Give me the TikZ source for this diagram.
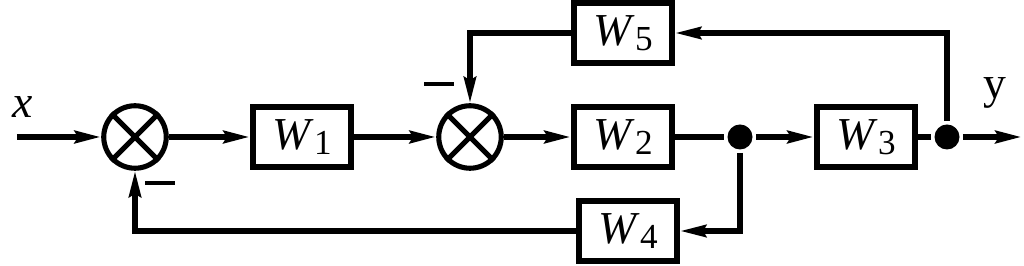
\documentclass[tikz,border=0pt]{standalone}
\usepackage{fontspec}
\setmainfont{Liberation Serif}
\usepackage{tikz}
\usetikzlibrary{positioning, arrows.meta}

\newcommand{\wblk}[1]{\textit{W}\kern0.2pt\raisebox{-3pt}{\fontsize{20}{20}\selectfont #1}}

\begin{document}
\begin{tikzpicture}[>={Stealth[length=5.2mm,width=2.4mm,inset=0.6mm]},line width=3.8pt,
    font=\fontsize{26}{28}\selectfont,
    sum/.style={draw,circle,minimum size=1.25cm,inner sep=0pt,line width=2.9pt},
    block/.style={draw,rectangle,minimum width=1.96cm,minimum height=1.2cm,inner sep=0pt,line width=3.4pt},
    dot/.style={circle,fill,minimum size=0.5cm,inner sep=0pt},
    neg/.style={fill,minimum width=0.6cm,minimum height=0.09cm,inner sep=0pt},
    fb/.style={line width=3pt}]
    \useasboundingbox (0,0) rectangle (20.48,5.32);

    \node[sum] (s1) at (2.70,2.58) {};
    \node[block] (w1) [right of=s1,node distance=3.34cm] {\wblk{1}};
    \node[sum] (s2) [right of=w1,node distance=3.36cm] {};
    \node[block] (w2) [right of=s2,node distance=3.06cm] {\wblk{2}};
    \node[dot] (d1) [right of=w2,node distance=2.34cm] {};
    \node[block] (w3) [right of=d1,node distance=2.52cm] {\wblk{3}};
    \node[dot] (d2) [right of=w3,node distance=1.62cm] {};
    \node[block] (w5) [above of=w2,node distance=2.08cm] {\wblk{5}};
    \node[block] (w4) [below of=w2,node distance=1.88cm,xshift=0.1cm] {\wblk{4}};
    \coordinate (in) at (0.34,2.58);
    \coordinate (out) at (20.44,2.58);

    % crosses of the summing points
    \foreach \s in {s1,s2} {
        \draw[line width=2.9pt] (\s.45) -- (\s.225) (\s.135) -- (\s.-45);
    }

    \node (lx) at (0.46,3.18) {\textit{x}};
    \node (ly) at (19.90,3.46) {y};
    \node[neg] (neg1) at (3.20,1.66) {};
    \node[neg] (neg2) at (8.78,3.64) {};

    \draw[->] (in) -- (s1);
    \draw[->] (s1) -- (w1);
    \draw[->] (w1) -- (s2);
    \draw[->] (s2) -- (w2);
    \draw (w2) -- (d1);
    \draw[->] (d1) -- (w3);
    \draw (w3) -- (d2);
    \draw[->] (d2) -- (out);

    \draw[->,fb] (d2) |- (w5);
    \draw[->,fb] (w5) -| (s2);
    \draw[->,fb] (d1) |- (w4);
    \draw[->,fb] (w4) -| (s1);
\end{tikzpicture}
\end{document}
